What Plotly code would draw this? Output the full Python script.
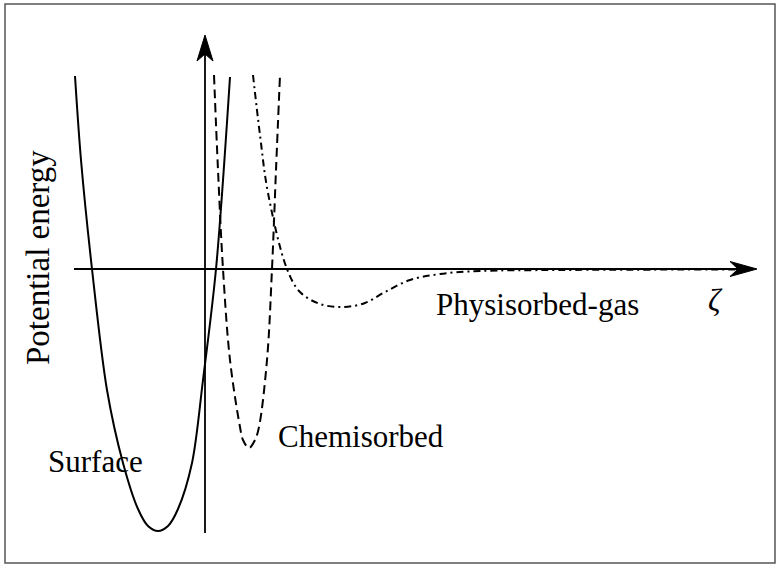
import plotly.graph_objects as go

# Schematic potential-energy curves (zeta, energy)
surface_zeta = [-1.30, -1.24, -1.13, -0.98, -0.82, -0.67, -0.57, -0.47, -0.37, -0.27, -0.13, -0.02, 0.11, 0.25]
surface_energy = [1.93, 1.09, 0.00, -1.21, -1.94, -2.40, -2.57, -2.62, -2.57, -2.40, -1.94, -1.11, 0.00, 1.92]

chem_zeta = [0.09, 0.13, 0.18, 0.25, 0.35, 0.38, 0.44, 0.50, 0.54, 0.62, 0.67, 0.71, 0.75]
chem_energy = [1.94, 0.99, 0.00, -0.91, -1.58, -1.71, -1.79, -1.71, -1.58, -0.91, 0.00, 0.99, 1.94]

phys_zeta = [0.48, 0.55, 0.63, 0.82, 0.95, 1.15, 1.38, 1.60, 1.80, 2.05, 2.35, 2.75, 3.55, 5.30]
phys_energy = [1.94, 1.34, 0.76, 0.00, -0.23, -0.35, -0.38, -0.34, -0.23, -0.11, -0.05, -0.02, -0.01, -0.005]

labels = ["Surface", "Chemisorbed", "Physisorbed-gas"]
axis_label_y = "Potential energy"
axis_label_x = "ζ"

FONT = "Liberation Serif, DejaVu Serif, serif"

fig = go.Figure()
fig.add_trace(go.Scatter(x=surface_zeta, y=surface_energy, mode="lines",
                         line=dict(color="black", width=2, shape="spline", smoothing=0.9)))
fig.add_trace(go.Scatter(x=chem_zeta, y=chem_energy, mode="lines",
                         line=dict(color="black", width=2, dash="9px,5px", shape="spline", smoothing=1.0)))
fig.add_trace(go.Scatter(x=phys_zeta, y=phys_energy, mode="lines",
                         line=dict(color="black", width=2, dash="7px,4px,2px,4px", shape="spline", smoothing=1.0)))

# axes drawn as arrows
fig.add_shape(type="line", x0=-1.31, y0=0, x1=5.40, y1=0, line=dict(color="black", width=1.8))
fig.add_shape(type="path", path="M 5.52,0 L 5.25,0.075 L 5.33,0 L 5.25,-0.075 Z",
              fillcolor="black", line=dict(color="black", width=1))
fig.add_shape(type="line", x0=0, y0=-2.64, x1=0, y1=2.20, line=dict(color="black", width=1.8))
fig.add_shape(type="path", path="M 0,2.34 L 0.08,2.08 L 0,2.15 L -0.08,2.08 Z",
              fillcolor="black", line=dict(color="black", width=1))

# outer frame
fig.add_shape(type="rect", xref="paper", yref="paper",
              x0=5/781, x1=775/781, y0=1-563/565, y1=1-4/565,
              line=dict(color="#555555", width=1.5))

font = dict(family=FONT, size=31, color="black")
fig.add_annotation(x=-1.59, y=-1.92, text=labels[0], showarrow=False, xanchor="left", yanchor="middle", font=font)
fig.add_annotation(x=0.71, y=-1.67, text=labels[1], showarrow=False, xanchor="left", yanchor="middle", font=font)
fig.add_annotation(x=2.29, y=-0.35, text=labels[2], showarrow=False, xanchor="left", yanchor="middle", font=font)
fig.add_annotation(x=5.10, y=-0.31, text="<i>" + axis_label_x + "</i>", showarrow=False, xanchor="center", yanchor="middle", font=font)
fig.add_annotation(x=-1.67, y=0.11, text=axis_label_y, showarrow=False, textangle=-90,
                   xanchor="center", yanchor="middle", font=dict(family=FONT, size=33, color="black"))

fig.update_layout(
    width=781, height=565,
    margin=dict(l=0, r=0, t=0, b=0),
    paper_bgcolor="white", plot_bgcolor="white",
    showlegend=False,
    xaxis=dict(range=[-2.05, 5.76], visible=False, fixedrange=True),
    yaxis=dict(range=[-2.96, 2.69], visible=False, fixedrange=True),
)

fig.write_html("out.html", config={"displayModeBar": False},
               post_script="document.body.style.margin='0';document.body.style.padding='0';")
